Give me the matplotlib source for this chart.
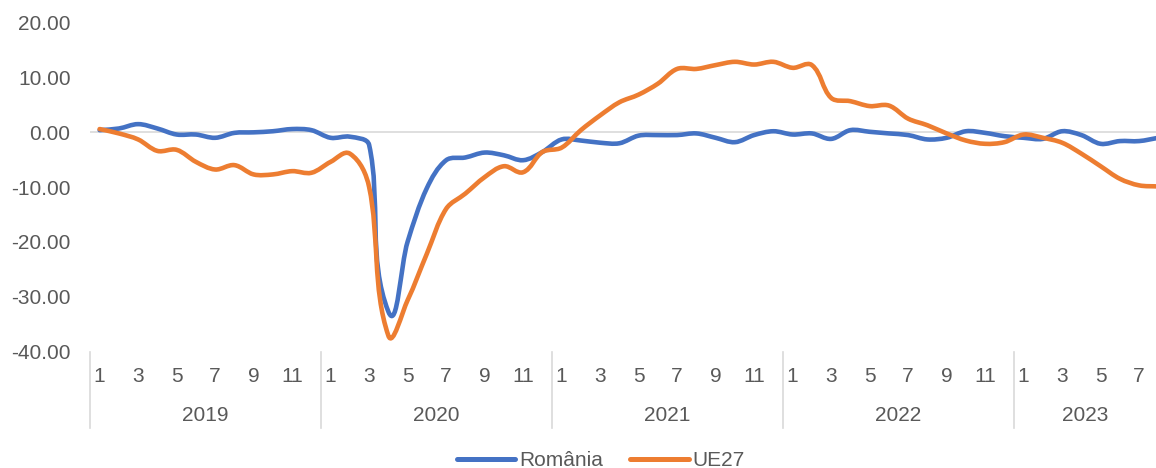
import numpy as np
import matplotlib
matplotlib.use("Agg")
import matplotlib.pyplot as plt
from matplotlib.path import Path
from matplotlib.patches import PathPatch
from matplotlib.lines import Line2D

# Data (monthly, Jan 2019 - Aug 2023)
years = ["2019", "2020", "2021", "2022", "2023"]
months_per_year = [12, 12, 12, 12, 8]

romania = [0.4, 0.7, 1.5, 0.7, -0.4, -0.4, -1.0, -0.1, 0.0, 0.2, 0.6, 0.4,
           -1.0, -0.8, -2.3, -32.8, -20.0, -10.2, -5.1, -4.6, -3.7, -4.2, -5.1, -3.6,
           -1.3, -1.5, -1.9, -2.0, -0.6, -0.5, -0.5, -0.2, -1.0, -1.8, -0.5, 0.2,
           -0.4, -0.2, -1.2, 0.4, 0.1, -0.2, -0.5, -1.3, -1.0, 0.2, -0.1, -0.7,
           -1.0, -1.2, 0.2, -0.5, -2.1, -1.6, -1.6, -1.0]
ue27 = [0.6, -0.2, -1.3, -3.4, -3.2, -5.4, -6.8, -6.0, -7.7, -7.7, -7.1, -7.4,
        -5.4, -3.9, -10.0, -37.2, -30.7, -22.2, -14.0, -11.2, -8.2, -6.2, -7.3, -3.6,
        -2.8, 0.4, 3.1, 5.5, 6.9, 8.9, 11.6, 11.6, 12.3, 12.9, 12.4, 12.9,
        11.8, 12.3, 6.3, 5.7, 4.8, 4.9, 2.5, 1.3, -0.2, -1.5, -2.1, -1.8,
        -0.4, -1.0, -1.9, -3.9, -6.2, -8.5, -9.7, -9.9]

BLUE = "#4472C4"
ORANGE = "#ED7D31"
GREY_TXT = "#595959"
GREY_LINE = "#D9D9D9"
FONT = "Liberation Sans"

# approx. pixels per data unit, used so smoothing works in screen space
PX_X = 19.25
PX_Y = 5.47


def smooth_path(x, y):
    # smoothed line like Excel: Bezier segments, tangent along neighbours,
    # handle length scaled by each segment's own length (less overshoot)
    pts = np.column_stack((np.asarray(x) * PX_X, np.asarray(y) * PX_Y)).astype(float)
    n = len(pts)
    tang = np.zeros_like(pts)
    for i in range(n):
        a = pts[max(i - 1, 0)]
        b = pts[min(i + 1, n - 1)]
        d = b - a
        tang[i] = d / np.hypot(*d)
    verts = [pts[0]]
    codes = [Path.MOVETO]
    for i in range(n - 1):
        seg = np.hypot(*(pts[i + 1] - pts[i]))
        c1 = pts[i] + tang[i] * seg / 3.0
        c2 = pts[i + 1] - tang[i + 1] * seg / 3.0
        verts += [c1, c2, pts[i + 1]]
        codes += [Path.CURVE4] * 3
    verts = np.array(verts) / [PX_X, PX_Y]
    return Path(verts, codes)


fig = plt.figure(figsize=(11.56, 4.68), dpi=100)
# axes spans x=90..1168 px (cropped at the right edge), y=23..351 px
ax = fig.add_axes([90 / 1156, 1 - 351 / 468, 1078 / 1156, 328 / 468])

x = np.arange(len(romania))
for vals, col in [(romania, BLUE), (ue27, ORANGE)]:
    patch = PathPatch(smooth_path(x, vals), facecolor="none", edgecolor=col,
                      lw=3.3, capstyle="round", joinstyle="round", zorder=3)
    ax.add_patch(patch)

ax.set_xlim(-0.5, sum(months_per_year) - 0.5)
ax.set_ylim(-40, 20)
ax.axhline(0, color=GREY_LINE, lw=1.2, zorder=1)

for s in ax.spines.values():
    s.set_visible(False)

ax.set_yticks(np.arange(-40, 21, 10))
ax.set_yticklabels([f"{v:.2f}" for v in np.arange(-40, 21, 10)])
ax.tick_params(axis="y", length=0, pad=14, labelsize=15, labelcolor=GREY_TXT)
for lab in ax.get_yticklabels():
    lab.set_fontfamily(FONT)
ax.set_xticks([])

# two-level category axis
trans = ax.get_xaxis_transform()
start = 0
for yr, nm in zip(years, months_per_year):
    for m in range(1, nm + 1, 2):
        ax.text(start + m - 1, -0.079, str(m), transform=trans, ha="center",
                va="center", fontsize=15, color=GREY_TXT, family=FONT)
    # last year is cut by the image edge: centre it on the visible part
    yr_x = start + 5.5 if nm == 12 else start + 3.2
    ax.text(yr_x, -0.198, yr, transform=trans, ha="center", va="center",
            fontsize=15, color=GREY_TXT, family=FONT)
    ax.plot([start - 0.5, start - 0.5], [-0.003, -0.235], transform=trans,
            color=GREY_LINE, lw=1.2, clip_on=False)
    start += nm

handles = [Line2D([], [], color=BLUE, lw=3.6, solid_capstyle="round"),
           Line2D([], [], color=ORANGE, lw=3.6, solid_capstyle="round")]
leg = fig.legend(handles, ["România", "UE27"], loc="center",
                 bbox_to_anchor=(601 / 1156, 1 - 461 / 468), ncol=2,
                 frameon=False, handlelength=2.8, handletextpad=0.2,
                 columnspacing=1.3, prop={"family": FONT, "size": 15})
for t in leg.get_texts():
    t.set_color(GREY_TXT)

fig.savefig("out.png", dpi=100)
